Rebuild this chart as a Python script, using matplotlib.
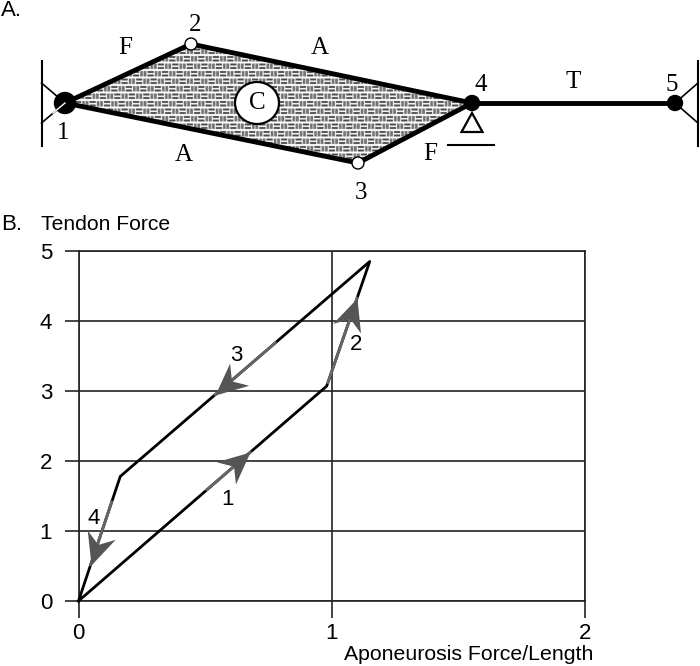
import matplotlib
matplotlib.use('Agg')
import matplotlib.pyplot as plt
from matplotlib.markers import MarkerStyle
from matplotlib.patches import Polygon, Circle, Ellipse
from matplotlib.transforms import Affine2D
import numpy as np

plt.rcParams['font.family'] = ['Liberation Sans', 'DejaVu Sans']

# panel B values
loop_x = [0, 0.98, 1.15, 0.165, 0]
loop_y = [0, 3.07, 4.85, 1.78, 0]
arrow_tail_x = [0.507, 0.985, 0.777, 0.131]
arrow_tail_y = [1.589, 3.12, 3.687, 1.413]
arrow_tip_x = [0.678, 1.10, 0.54, 0.048]
arrow_tip_y = [2.124, 4.327, 2.949, 0.518]
arrow_names = ['1', '2', '3', '4']
arrow_name_x = [0.59, 1.095, 0.625, 0.06]
arrow_name_y = [1.45, 3.66, 3.51, 1.18]
x_ticks = [0, 1, 2]
y_ticks = [0, 1, 2, 3, 4, 5]

# panel A, picture pixels
muscle_x = [65, 191, 472, 358]
muscle_y = [103, 44, 103, 163]
tendon_x = [472, 675]
tendon_y = [103, 103]
node_x = [65, 191, 358, 472, 675]
node_y = [103, 44, 163, 103, 103]
node_r = [10.5, 6, 6, 7.5, 7.5]
node_col = ['k', 'w', 'w', 'k', 'k']
label_text = ['F', 'A', '2', 'C', '1', 'A', '4', 'T', '5', 'F', '3']
label_x = [125, 320, 195, 257, 63, 184, 481, 573, 672, 430, 361]
label_y = [48, 48, 25, 103, 133, 155, 85, 82, 85, 154, 193]


def brick_texture(h, w, s=4):
    # brick weave, drawn at s times the pixel size
    img = np.ones((h * s, w * s))
    ch, cw = int(7.55 * s), int(7.4 * s)
    for r in range(h * s // ch + 1):
        for c in range(w * s // cw + 1):
            y0 = r * ch + s
            x0 = c * cw + s // 2 + (r % 2) * 3 * s
            cell = img[y0:y0 + ch - 2 * s, x0:x0 + cw - s]
            if (c + r // 2) % 2 == 0:
                cell[:2 * s, :] = 0.3
                cell[-2 * s:, :] = 0.3
            else:
                cell[:, :] = 0.45
                cell[:, cell.shape[1] // 2 - s // 2:cell.shape[1] // 2 + s // 2] = 0.85
    return img


fig = plt.figure(figsize=(7, 6.66), dpi=100)

# panel A
top = fig.add_axes([0, 0, 1, 1])
top.set_axis_off()
im = top.imshow(brick_texture(130, 420), cmap='gray', vmin=0, vmax=1, extent=(60, 480, 170, 40),
                aspect='auto', interpolation='antialiased', zorder=1)
poly = Polygon(np.column_stack([muscle_x, muscle_y]), closed=True, fc='none', ec='k', lw=3.5,
               joinstyle='miter', zorder=2)
top.add_patch(poly)
im.set_clip_path(poly)
top.plot(tendon_x, tendon_y, 'k', lw=3.5, zorder=2)
top.plot([41.5, 41.5], [61, 146], 'k', lw=1.5)
top.plot([698, 698], [61, 146], 'k', lw=1.5)
top.plot([41.5, 65, 41.5], [83, 103, 123], 'k', lw=1.2)
top.plot([698, 675, 698], [83, 103, 123], 'k', lw=1.2)
top.add_patch(Ellipse((257, 103), 44, 42, fc='w', ec='k', lw=1.6, zorder=3))
for x, y, r, c in zip(node_x, node_y, node_r, node_col):
    top.add_patch(Circle((x, y), r, fc=c, ec='k', lw=1, zorder=4))
top.plot([53, 65], [113, 103], 'w', lw=1, zorder=5)
top.add_patch(Polygon([[472, 113], [461.5, 132], [482.5, 132]], closed=True, fc='w', ec='k', lw=1.6))
top.plot([448, 494], [145, 145], 'k', lw=1.5)
for t, x, y in zip(label_text, label_x, label_y):
    top.text(x, y, t, family='Liberation Serif', fontsize=18, ha='center', va='center', zorder=6)
top.text(1, 11, 'A.', fontsize=16, ha='left', va='center')
top.text(1, 224, 'B.', fontsize=16, ha='left', va='center')
top.text(41, 224, 'Tendon Force', fontsize=15.2, ha='left', va='center')
top.text(344, 654, 'Aponeurosis Force/Length', fontsize=15.3, ha='left', va='center')
top.set_xlim(0, 700)
top.set_ylim(666, 0)

# panel B
ax = fig.add_axes([78.5 / 700, 65 / 666, 506.5 / 700, 350 / 666])
ax.patch.set_alpha(0)
ax.set_xlim(0, 2)
ax.set_ylim(0, 5)
ax.set_xticks(x_ticks)
ax.set_yticks(y_ticks)
ax.tick_params(axis='x', length=12, width=1.2, pad=4, labelsize=16, color='#222222')
ax.tick_params(axis='y', length=10, width=1.2, pad=9, labelsize=16, color='#222222')
ax.grid(True, color='#222222', lw=1.2, zorder=1)
ax.set_axisbelow(True)
for s in ax.spines.values():
    s.set_color('#222222')
    s.set_linewidth(1.2)
ax.plot(loop_x, loop_y, 'k', lw=2, zorder=3, clip_on=False)

head = np.array([[0, 0], [-1, 0.46], [-0.68, 0], [-1, -0.46], [0, 0]])
for x0, y0, x1, y1 in zip(arrow_tail_x, arrow_tail_y, arrow_tip_x, arrow_tip_y):
    ax.plot([x0, x1], [y0, y1], color='#666666', lw=2, zorder=4)
    p0 = ax.transData.transform((x0, y0))
    p1 = ax.transData.transform((x1, y1))
    ang = np.arctan2(p1[1] - p0[1], p1[0] - p0[0])
    m = MarkerStyle(head.tolist(), transform=Affine2D().rotate(ang))
    ax.plot([x1], [y1], marker=m, ms=46, color='#555555', mec='none', zorder=5)
for t, x, y in zip(arrow_names, arrow_name_x, arrow_name_y):
    ax.text(x, y, t, fontsize=16, ha='center', va='center', zorder=6)

fig.savefig('out.png', dpi=100)
